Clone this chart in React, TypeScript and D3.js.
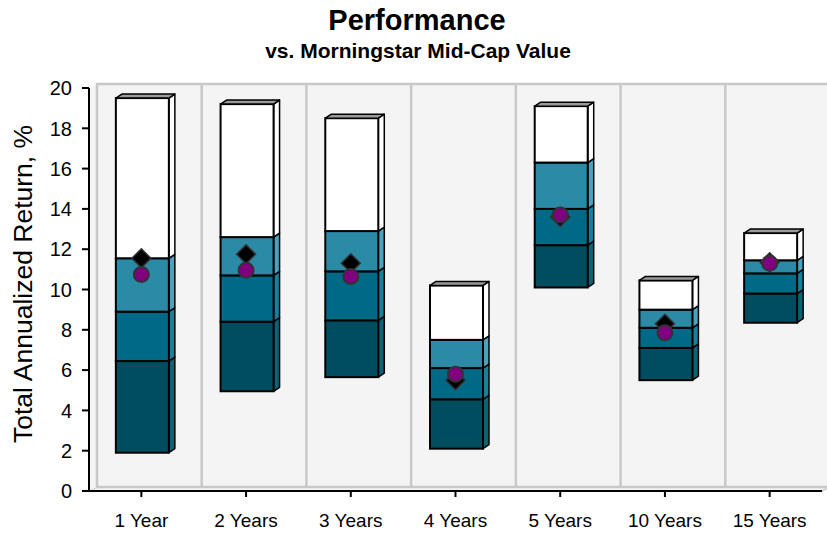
import * as d3 from "d3";

const categories = ["1 Year", "2 Years", "3 Years", "4 Years", "5 Years", "10 Years", "15 Years"];
// percentile breakpoints of the peer group (bottom of bar .. top of bar)
const p5 = [1.9, 4.95, 5.65, 2.1, 10.1, 5.5, 8.35];
const p25 = [6.45, 8.4, 8.47, 4.55, 12.2, 7.1, 9.8];
const p50 = [8.9, 10.7, 10.9, 6.1, 14.0, 8.1, 10.8];
const p75 = [11.55, 12.6, 12.9, 7.5, 16.3, 9.0, 11.45];
const p95 = [19.5, 19.2, 18.5, 10.2, 19.1, 10.45, 12.8];
const fund = [10.75, 10.95, 10.65, 5.8, 13.7, 7.85, 11.3];
const benchmark = [11.55, 11.75, 11.3, 5.5, 13.6, 8.3, 11.35];
const yTicks = [0, 2, 4, 6, 8, 10, 12, 14, 16, 18, 20];

const WIDTH = 827;
const HEIGHT = 534;
const MARGIN = { top: 88, right: 5, bottom: 43, left: 89 };
const WALL_DX = 8;
const WALL_DY = -4;
const BAR_DX = 6;
const BAR_DY = -4;
const BAR_WIDTH = 53;

const FRONT = ["#004d60", "#006a86", "#2b8aa6", "#ffffff"];
const SIDE = ["#0d6276", "#17809c", "#4aa3be", "#ffffff"];
const FONT = "'Liberation Sans', Arial, sans-serif";

export default function App() {
  const x0 = MARGIN.left;
  const x1 = WIDTH - MARGIN.right;
  const yBottom = HEIGHT - MARGIN.bottom;

  const xScale = d3.scaleBand().domain(categories).range([x0, x1]);
  const yScale = d3.scaleLinear().domain([0, 20]).range([yBottom, MARGIN.top]);

  const rows = categories.map((c, i) => ({
    name: c,
    stops: [p5[i], p25[i], p50[i], p75[i], p95[i]],
    fund: fund[i],
    bench: benchmark[i],
  }));

  const wallTop = yScale(20) + WALL_DY;
  const wallBottom = yBottom + WALL_DY;
  const wallLeft = x0 + WALL_DX;

  return (
    <svg
      width={WIDTH}
      height={HEIGHT}
      style={{ position: "absolute", left: 0, top: 0, background: "#fff" }}
    >
      {/* Titles */}
      <text x={417} y={30} textAnchor="middle" fontFamily={FONT} fontWeight="bold" fontSize={29}>
        Performance
      </text>
      <text x={418} y={58} textAnchor="middle" fontFamily={FONT} fontWeight="bold" fontSize={21}>
        vs. Morningstar Mid-Cap Value
      </text>

      {/* Back wall, side wall and floor */}
      <polygon
        points={`${x0},${yBottom} ${wallLeft},${wallBottom} ${x1 + WALL_DX},${wallBottom} ${x1},${yBottom}`}
        fill="#f4f4f4"
        stroke="#c8c8c8"
        strokeWidth={1.5}
      />
      <polygon
        points={`${x0},${yScale(20)} ${wallLeft},${wallTop} ${wallLeft},${wallBottom} ${x0},${yBottom}`}
        fill="#f4f4f4"
      />
      <rect
        x={wallLeft}
        y={wallTop}
        width={x1 + WALL_DX - wallLeft + 10}
        height={wallBottom - wallTop}
        fill="#f4f4f4"
        stroke="#c8c8c8"
        strokeWidth={2.5}
      />
      {categories.slice(1).map((c) => (
        <line
          key={c}
          x1={(xScale(c) as number) + WALL_DX}
          x2={(xScale(c) as number) + WALL_DX}
          y1={wallTop}
          y2={wallBottom}
          stroke="#c8c8c8"
          strokeWidth={2.5}
        />
      ))}

      {/* Bars */}
      {rows.map((d) => {
        const cx = (xScale(d.name) as number) + xScale.bandwidth() / 2;
        const bx = cx - 25.5;
        const topY = yScale(d.stops[4]);
        return (
          <g key={d.name}>
            {d.stops.slice(0, 4).map((lo, k) => {
              const hi = d.stops[k + 1];
              const ya = yScale(hi);
              const yb = yScale(lo);
              return (
                <g key={k}>
                  <polygon
                    points={`${bx + BAR_WIDTH},${yb} ${bx + BAR_WIDTH + BAR_DX},${yb + BAR_DY} ${bx + BAR_WIDTH + BAR_DX},${ya + BAR_DY} ${bx + BAR_WIDTH},${ya}`}
                    fill={SIDE[k]}
                    stroke="#000"
                    strokeWidth={1.5}
                    strokeLinejoin="round"
                  />
                  <rect
                    x={bx}
                    y={ya}
                    width={BAR_WIDTH}
                    height={yb - ya}
                    fill={FRONT[k]}
                    stroke="#000"
                    strokeWidth={2}
                  />
                </g>
              );
            })}
            <polygon
              points={`${bx},${topY} ${bx + BAR_DX},${topY + BAR_DY} ${bx + BAR_WIDTH + BAR_DX},${topY + BAR_DY} ${bx + BAR_WIDTH},${topY}`}
              fill="#9a9a9a"
              stroke="#000"
              strokeWidth={1.5}
              strokeLinejoin="round"
            />
          </g>
        );
      })}

      {/* Markers */}
      {rows.map((d) => {
        const cx = (xScale(d.name) as number) + xScale.bandwidth() / 2;
        const by = yScale(d.bench);
        const s = 9.5;
        return (
          <g key={d.name}>
            <polygon
              points={`${cx},${by - s} ${cx + s},${by} ${cx},${by + s} ${cx - s},${by}`}
              fill="#000"
              stroke="#333"
              strokeWidth={1.5}
            />
            <circle cx={cx} cy={yScale(d.fund)} r={7.5} fill="#800080" stroke="#333" strokeWidth={2} />
          </g>
        );
      })}

      {/* Axes */}
      <line x1={x0} x2={x0} y1={yScale(20)} y2={yBottom} stroke="#000" strokeWidth={2} />
      <line x1={x0} x2={x1} y1={yBottom} y2={yBottom} stroke="#000" strokeWidth={2} />
      {yTicks.map((t) => (
        <g key={t} transform={`translate(0,${yScale(t)})`}>
          <line x1={x0 - 7} x2={x0} stroke="#000" strokeWidth={2} />
          <text x={72} dy="0.36em" textAnchor="end" fontFamily={FONT} fontSize={20}>
            {t}
          </text>
        </g>
      ))}
      {categories.map((c) => {
        const cx = (xScale(c) as number) + xScale.bandwidth() / 2;
        return (
          <g key={c}>
            <line x1={cx} x2={cx} y1={yBottom} y2={yBottom + 6} stroke="#000" strokeWidth={2} />
            <text x={cx} y={527} textAnchor="middle" fontFamily={FONT} fontSize={19}>
              {c}
            </text>
          </g>
        );
      })}
      <text
        transform={`translate(32,${284}) rotate(-90)`}
        textAnchor="middle"
        fontFamily={FONT}
        fontSize={26.5}
      >
        Total Annualized Return, %
      </text>
    </svg>
  );
}
